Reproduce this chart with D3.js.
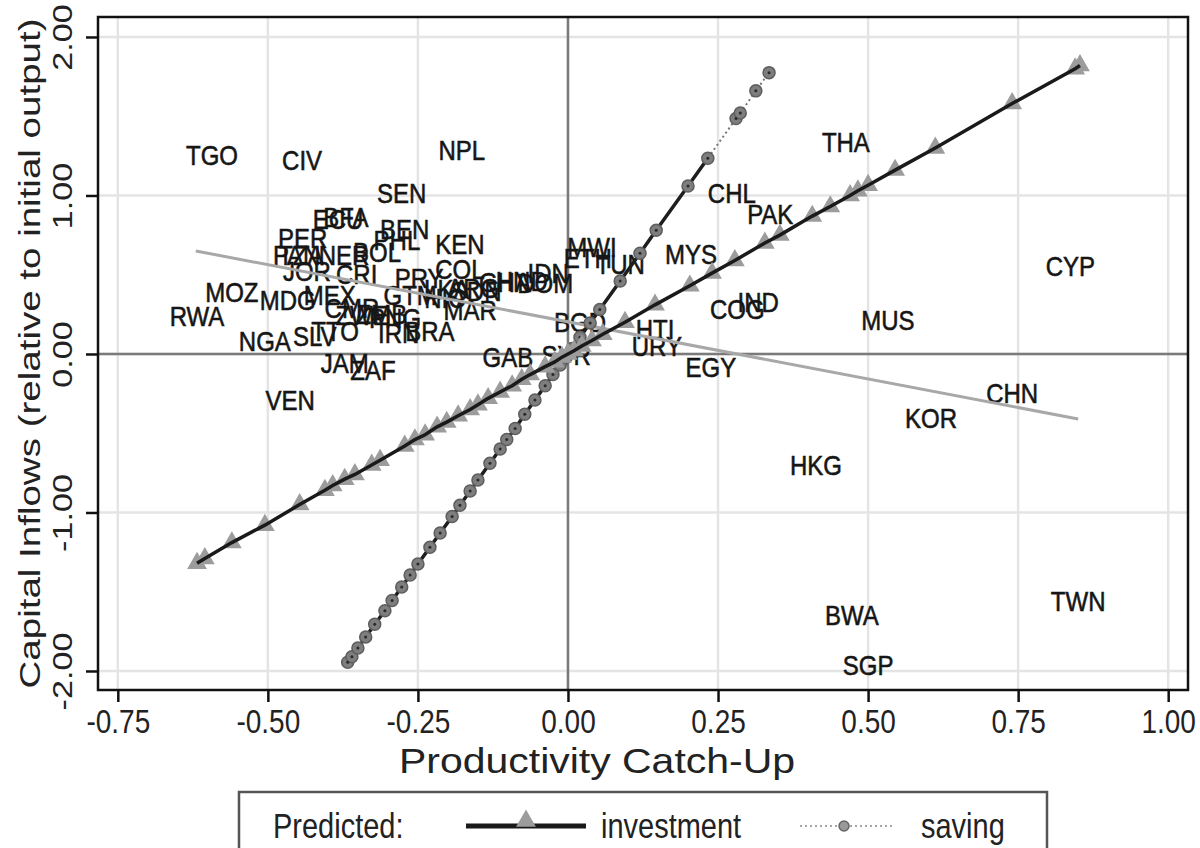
<!DOCTYPE html>
<html>
<head>
<meta charset="utf-8">
<script src="https://cdn.jsdelivr.net/npm/d3@7"></script>
<style>
  html, body { margin: 0; padding: 0; background: #fff; }
  svg { display: block; font-family: "Liberation Sans", Arial, Helvetica, sans-serif; }
</style>
</head>
<body>
<svg id="chart" width="1200" height="848"></svg>
<script>
  // country labels: code, productivity catch-up, capital inflows
  var codes = ['TGO', 'CIV', 'NPL', 'SEN', 'ECU', 'BFA', 'BEN', 'PHL', 'PER', 'PAN', 'TZA', 'NER',
    'BOL', 'KEN', 'JOR', 'CRI', 'PRY', 'COL', 'LKA', 'ARG', 'SDN', 'GHA', 'HND', 'IDN', 'DOM',
    'MWI', 'ETH', 'TUN', 'MYS', 'CHL', 'PAK', 'THA', 'CYP', 'MUS', 'COG', 'IND', 'HTI', 'URY',
    'EGY', 'CHN', 'KOR', 'HKG', 'BWA', 'TWN', 'SGP', 'MOZ', 'MDG', 'MEX', 'CMR', 'ZWE', 'ZMB',
    'PNG', 'GTM', 'NIC', 'MAR', 'IRN', 'BRA', 'TTO', 'SLV', 'NGA', 'RWA', 'JAM', 'ZAF', 'VEN',
    'GAB', 'SYR', 'BGD'];
  var catchUp = [-0.593, -0.443, -0.177, -0.277, -0.383, -0.370, -0.272, -0.285, -0.442, -0.452, -0.445, -0.373,
    -0.318, -0.180, -0.435, -0.352, -0.248, -0.180, -0.202, -0.158, -0.153, -0.105, -0.077, -0.033, -0.038,
    0.040, 0.033, 0.087, 0.205, 0.273, 0.337, 0.463, 0.837, 0.533, 0.282, 0.317, 0.145, 0.148,
    0.238, 0.740, 0.605, 0.413, 0.473, 0.850, 0.500, -0.560, -0.467, -0.397, -0.360, -0.343, -0.310,
    -0.288, -0.263, -0.205, -0.163, -0.282, -0.230, -0.388, -0.422, -0.505, -0.618, -0.372, -0.325, -0.463,
    -0.100, -0.003, 0.020];
  var inflows = [1.243, 1.211, 1.274, 1.003, 0.839, 0.852, 0.776, 0.707, 0.719, 0.612, 0.612, 0.612,
    0.631, 0.681, 0.511, 0.492, 0.467, 0.524, 0.397, 0.404, 0.385, 0.442, 0.448, 0.498, 0.435,
    0.662, 0.593, 0.555, 0.618, 1.003, 0.871, 1.325, 0.543, 0.202, 0.271, 0.315, 0.145, 0.038,
    -0.095, -0.259, -0.416, -0.713, -1.659, -1.571, -1.975, 0.379, 0.328, 0.360, 0.278, 0.233, 0.240,
    0.215, 0.360, 0.341, 0.265, 0.120, 0.132, 0.132, 0.101, 0.069, 0.227, -0.069, -0.114, -0.303,
    -0.032, -0.019, 0.189];

  // simple fitted line (end points)
  var fitX = [-0.620, 0.850];
  var fitY = [0.650, -0.410];

  // predicted: investment
  var invX = [-0.618, -0.605, -0.560, -0.505, -0.447, -0.405, -0.392, -0.372, -0.355, -0.327, -0.313, -0.272,
    -0.255, -0.238, -0.218, -0.202, -0.183, -0.163, -0.150, -0.133, -0.113, -0.093, -0.077, -0.063, -0.038,
    -0.022, -0.010, 0.000, 0.010, 0.023, 0.040, 0.058, 0.095, 0.145, 0.203, 0.240, 0.278, 0.328, 0.353,
    0.407, 0.437, 0.470, 0.483, 0.500, 0.545, 0.612, 0.740, 0.845, 0.853];
  var invY = [-1.32, -1.29, -1.19, -1.08, -0.95, -0.86, -0.83, -0.79, -0.76, -0.70, -0.67, -0.58,
    -0.54, -0.51, -0.46, -0.43, -0.39, -0.35, -0.32, -0.28, -0.24, -0.20, -0.16, -0.13, -0.08,
    -0.05, -0.02, 0.00, 0.02, 0.05, 0.085, 0.125, 0.20, 0.31, 0.43, 0.51, 0.59, 0.70, 0.75,
    0.87, 0.93, 1.00, 1.03, 1.065, 1.16, 1.30, 1.58, 1.80, 1.82];

  // predicted: saving
  var savX = [-0.367, -0.360, -0.350, -0.337, -0.322, -0.305, -0.293, -0.277, -0.263, -0.250, -0.230, -0.213,
    -0.193, -0.180, -0.163, -0.150, -0.130, -0.113, -0.102, -0.088, -0.072, -0.055, -0.038, -0.025, -0.013,
    -0.003, 0.007, 0.020, 0.037, 0.053, 0.087, 0.120, 0.147, 0.200, 0.233, 0.280, 0.287, 0.313, 0.335];
  var savY = [-1.945, -1.910, -1.855, -1.785, -1.705, -1.620, -1.555, -1.470, -1.395, -1.325, -1.220, -1.130,
    -1.025, -0.955, -0.865, -0.795, -0.690, -0.600, -0.540, -0.470, -0.380, -0.290, -0.200, -0.130, -0.070,
    -0.020, 0.035, 0.105, 0.195, 0.280, 0.460, 0.635, 0.780, 1.060, 1.235, 1.485, 1.520, 1.660, 1.775];

  var xTicks = [-0.75, -0.50, -0.25, 0.00, 0.25, 0.50, 0.75, 1.00];
  var yTicks = [-2, -1, 0, 1, 2];

  (function () {
    var svg = d3.select('#chart'),
      pLeft = 98, pRight = 1188, pTop = 17, pBottom = 690,
      tall = 1.18; // the printed figure's text is a little taller than wide

    var x = d3.scaleLinear().domain([-0.783, 1.033]).range([pLeft, pRight]),
      y = d3.scaleLinear().domain([-2.12, 2.126]).range([pBottom, pTop]);

    var fmt = d3.formatLocale({ decimal: '.', thousands: ',', grouping: [3], currency: ['', ''], minus: '-' }).format('.2f');

    // grid
    svg.append('g').selectAll('line').data(xTicks).enter().append('line')
      .attr('x1', function (d) { return x(d); }).attr('x2', function (d) { return x(d); })
      .attr('y1', pTop).attr('y2', pBottom)
      .attr('stroke', '#e4e4e4').attr('stroke-width', 2.5);
    svg.append('g').selectAll('line').data(yTicks).enter().append('line')
      .attr('y1', function (d) { return y(d); }).attr('y2', function (d) { return y(d); })
      .attr('x1', pLeft).attr('x2', pRight)
      .attr('stroke', '#e4e4e4').attr('stroke-width', 2.5);

    // zero lines
    svg.append('line').attr('x1', x(0)).attr('x2', x(0)).attr('y1', pTop).attr('y2', pBottom)
      .attr('stroke', '#7a7a7a').attr('stroke-width', 2.5);
    svg.append('line').attr('x1', pLeft).attr('x2', pRight).attr('y1', y(0)).attr('y2', y(0))
      .attr('stroke', '#7a7a7a').attr('stroke-width', 2.5);

    // country labels
    svg.append('g').selectAll('text').data(codes).enter().append('text')
      .attr('transform', function (d, i) {
        return 'translate(' + x(catchUp[i]) + ',' + (y(inflows[i]) + 8) + ') scale(1,' + tall + ')';
      })
      .attr('text-anchor', 'middle')
      .attr('font-size', 24)
      .attr('fill', '#161616')
      .attr('stroke', '#161616').attr('stroke-width', 0.5)
      .text(function (d) { return d; });

    // fitted line
    svg.append('line')
      .attr('x1', x(fitX[0])).attr('y1', y(fitY[0]))
      .attr('x2', x(fitX[1])).attr('y2', y(fitY[1]))
      .attr('stroke', '#a8a8a8').attr('stroke-width', 3);

    var line = d3.line()
      .x(function (d) { return x(d[0]); })
      .y(function (d) { return y(d[1]); });

    var inv = invX.map(function (v, i) { return [v, invY[i]]; }),
      sav = savX.map(function (v, i) { return [v, savY[i]]; });

    // saving: dotted throughout, dark where it runs among dense points
    svg.append('path').datum(sav).attr('d', line)
      .attr('fill', 'none').attr('stroke', '#777').attr('stroke-width', 2)
      .attr('stroke-dasharray', '2,3');
    svg.append('path').datum(sav.filter(function (d) { return d[0] < 0.27; })).attr('d', line)
      .attr('fill', 'none').attr('stroke', '#1e1e1e').attr('stroke-width', 3.5);

    svg.append('g').selectAll('circle').data(sav).enter().append('circle')
      .attr('cx', function (d) { return x(d[0]); })
      .attr('cy', function (d) { return y(d[1]); })
      .attr('r', 6)
      .attr('fill', '#7e7e7e').attr('stroke', '#5e5e5e').attr('stroke-width', 1.5);
    svg.append('g').selectAll('circle').data(sav).enter().append('circle')
      .attr('cx', function (d) { return x(d[0]); })
      .attr('cy', function (d) { return y(d[1]); })
      .attr('r', 1.5)
      .attr('fill', '#2a2a2a');

    // investment
    var tri = d3.symbol().type(d3.symbolTriangle).size(170);
    svg.append('g').selectAll('path').data(inv).enter().append('path')
      .attr('d', tri)
      .attr('transform', function (d) { return 'translate(' + x(d[0]) + ',' + y(d[1]) + ')'; })
      .attr('fill', '#9c9c9c');
    svg.append('path').datum(inv).attr('d', line)
      .attr('fill', 'none').attr('stroke', '#1a1a1a').attr('stroke-width', 3.5);

    // axes
    var gx = svg.append('g').attr('transform', 'translate(0,' + pBottom + ')')
      .call(d3.axisBottom(x).tickValues(xTicks).tickFormat(fmt).tickSize(12).tickSizeOuter(0));
    gx.select('.domain').remove();
    gx.selectAll('line').attr('stroke', '#111').attr('stroke-width', 2.5);
    gx.selectAll('text').attr('y', 0).attr('dy', 0)
      .attr('transform', 'translate(0,43) scale(1,' + tall + ')')
      .attr('font-size', 28).attr('fill', '#222');
    gx.attr('font-family', null);

    var gy = svg.append('g').attr('transform', 'translate(' + pLeft + ',0)')
      .call(d3.axisLeft(y).tickValues(yTicks).tickFormat(fmt).tickSize(12).tickSizeOuter(0));
    gy.select('.domain').remove();
    gy.selectAll('line').attr('stroke', '#111').attr('stroke-width', 2.5);
    gy.selectAll('text').attr('transform', 'rotate(-90) scale(' + 1.22 + ',1)')
      .attr('x', 0).attr('y', -26).attr('dy', 0)
      .attr('text-anchor', 'middle')
      .attr('font-size', 28).attr('fill', '#222');
    gy.attr('font-family', null);

    // frame
    svg.append('rect').attr('x', pLeft).attr('y', pTop)
      .attr('width', pRight - pLeft).attr('height', pBottom - pTop)
      .attr('fill', 'none').attr('stroke', '#111').attr('stroke-width', 2.5);

    // axis titles
    svg.append('text').attr('transform', 'translate(597,773) scale(1,' + tall + ')')
      .attr('text-anchor', 'middle').attr('font-size', 30).attr('fill', '#222')
      .attr('textLength', 396).attr('lengthAdjust', 'spacingAndGlyphs')
      .text('Productivity Catch-Up');
    svg.append('text').attr('transform', 'translate(40,' + ((pTop + pBottom) / 2) + ') rotate(-90)')
      .attr('text-anchor', 'middle').attr('font-size', 29).attr('fill', '#222')
      .attr('textLength', 670).attr('lengthAdjust', 'spacingAndGlyphs')
      .text('Capital Inflows (relative to initial output)');

    // legend
    var lg = svg.append('g');
    lg.append('rect').attr('x', 239).attr('y', 792).attr('width', 808).attr('height', 80)
      .attr('fill', '#fff').attr('stroke', '#555').attr('stroke-width', 2.5);
    lg.append('text').attr('transform', 'translate(273,838) scale(1,' + tall + ')')
      .attr('font-size', 29).attr('fill', '#222').text('Predicted:');
    lg.append('line').attr('x1', 466).attr('x2', 586).attr('y1', 826).attr('y2', 826)
      .attr('stroke', '#1a1a1a').attr('stroke-width', 5);
    lg.append('path').attr('d', tri).attr('transform', 'translate(526,821)').attr('fill', '#9c9c9c');
    lg.append('text').attr('transform', 'translate(601,838) scale(1,' + tall + ')')
      .attr('font-size', 29).attr('fill', '#222').text('investment');
    lg.append('line').attr('x1', 800).attr('x2', 893).attr('y1', 826).attr('y2', 826)
      .attr('stroke', '#888').attr('stroke-width', 1.5).attr('stroke-dasharray', '2,3');
    lg.append('circle').attr('cx', 844).attr('cy', 826).attr('r', 5)
      .attr('fill', '#999').attr('stroke', '#666').attr('stroke-width', 1.5);
    lg.append('text').attr('transform', 'translate(921,838) scale(1,' + tall + ')')
      .attr('font-size', 29).attr('fill', '#222').text('saving');
  })();
</script>
</body>
</html>
